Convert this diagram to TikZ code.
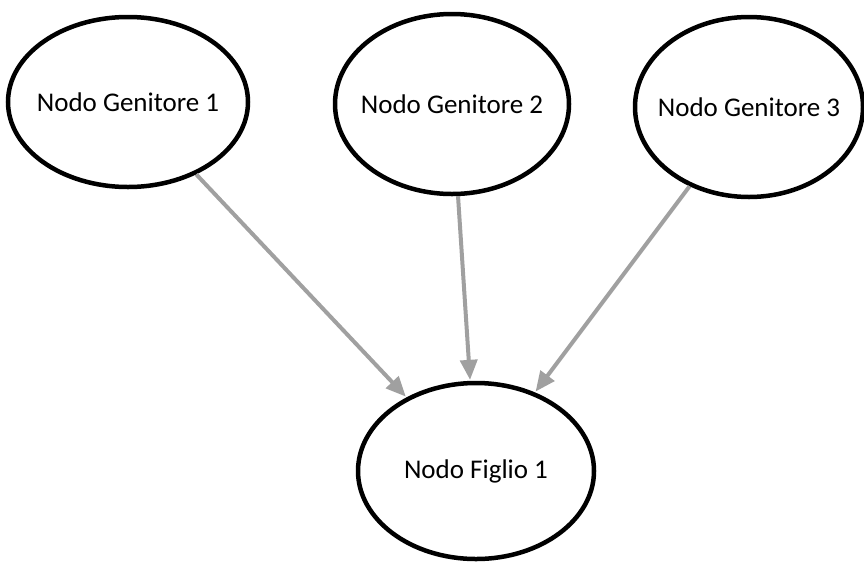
\documentclass[tikz,border=0pt]{standalone}
\usepackage{fontspec}
\setmainfont{Carlito}
\usepackage{xcolor}
\usepackage{tikz}
\usetikzlibrary{shapes.geometric,arrows.meta}
\definecolor{grigio}{RGB}{160,160,160}
\newcommand{\etichetta}[1]{\makebox[0pt]{#1}}
\tikzstyle{nodo} = [ellipse, draw=black, line width=4.5pt, inner sep=0pt, text centered, font=\fontsize{27}{32}\selectfont]
\tikzstyle{freccia} = [draw=grigio, line width=4pt, -{Triangle[length=20pt,width=17pt]}, fill=grigio, shorten >=1pt]

\begin{document}
\begin{tikzpicture}[x=1pt,y=-1pt]
        \useasboundingbox (0,0) rectangle (864,563);
        \node[nodo, minimum width=240, minimum height=170] (gen1) at (128,102) {\etichetta{Nodo Genitore 1}};
        \node[nodo, minimum width=234, minimum height=180] (gen2) at (452,104) {\etichetta{Nodo Genitore 2}};
        \node[nodo, minimum width=228, minimum height=180] (gen3) at (749,107) {\etichetta{Nodo Genitore 3}};
        \node[nodo, minimum width=236, minimum height=176] (figlio) at (476,471) {\etichetta{Nodo Figlio 1}};
        % archi verso il figlio
        \draw[freccia] (gen1) -- (figlio);
        \draw[freccia] (gen2) -- (figlio);
        \draw[freccia] (gen3) -- (figlio);
\end{tikzpicture}
\end{document}
